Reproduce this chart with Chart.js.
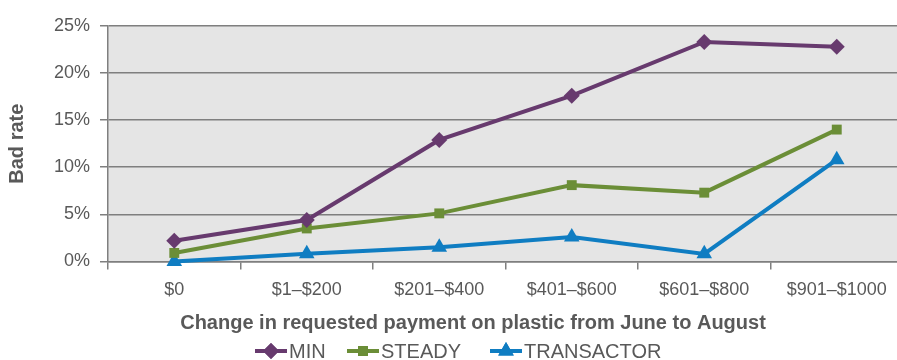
<!DOCTYPE html>
<html lang="en">
  <head>
    <meta charset="UTF-8">
    <title>Bad rate by change in requested payment</title>
    <script src="https://cdn.jsdelivr.net/npm/chart.js"></script>
    <style>
      html, body { margin: 0; padding: 0; background: #fff; overflow: hidden; }
      canvas { display: block; }
    </style>
  </head>
  <body>
    <!-- a bit wider than the window: the right edge of the plot runs off the page like the original -->
    <canvas id="lineChart" width="912" height="360"></canvas>
    <script>
      var categories = ['$0', '$1–$200', '$201–$400', '$401–$600', '$601–$800', '$901–$1000'];
      var minRate = [2.2, 4.4, 12.9, 17.6, 23.3, 22.8];
      var steadyRate = [0.9, 3.5, 5.1, 8.1, 7.3, 14.0];
      var transactorRate = [0.0, 0.8, 1.5, 2.6, 0.8, 10.8];
      var yTicks = [0, 5, 10, 15, 20, 25];
      var xTitle = 'Change in requested payment on plastic from June to August';

      var textGray = '#595959';
      var gridGray = '#7f7f7f';
      var fontFam = '"Liberation Sans", Arial, sans-serif';

      // grey plot background
      var plotBg = {
        id: 'plotBg',
        beforeDraw: function(chart) {
          var a = chart.chartArea, c = chart.ctx;
          c.save();
          c.fillStyle = '#e5e5e5';
          c.fillRect(a.left, a.top, a.right - a.left, a.bottom - a.top);
          c.restore();
        }
      };

      // x title sits left of the plot centre in the original, so draw it here
      // (the scale title is kept, transparent, to hold its space)
      var xTitleText = {
        id: 'xTitleText',
        afterDraw: function(chart) {
          var c = chart.ctx, s = chart.scales.x;
          c.save();
          c.font = 'bold 20px ' + fontFam;
          c.fillStyle = textGray;
          c.textAlign = 'center';
          c.textBaseline = 'middle';
          c.fillText(xTitle, 473, s.bottom - 12);
          c.restore();
        }
      };

      // legend with line + marker, drawn under the axis title
      var legendSlots = [255, 347, 490];
      var lineLegend = {
        id: 'lineLegend',
        afterDraw: function(chart) {
          var c = chart.ctx;
          var y = 351, seg = 32, gap = 2;
          c.save();
          c.font = '20px ' + fontFam;
          c.textBaseline = 'middle';
          chart.data.datasets.forEach(function(d, i) {
            var x = legendSlots[i];
            c.strokeStyle = d.borderColor;
            c.lineWidth = 4;
            c.beginPath();
            c.moveTo(x, y);
            c.lineTo(x + seg, y);
            c.stroke();
            c.fillStyle = d.borderColor;
            Chart.helpers.drawPoint(c, { pointStyle: d.pointStyle, radius: d.pointRadius, borderWidth: 0, rotation: 0 }, x + seg / 2, y);
            c.fill();
            c.fillStyle = textGray;
            c.fillText(d.label, x + seg + gap, y + 1);
          });
          c.restore();
        }
      };

      function series(label, data, color, style, r) {
        return {
          label: label,
          data: data,
          borderColor: color,
          backgroundColor: color,
          pointBackgroundColor: color,
          pointBorderColor: color,
          pointBorderWidth: 0,
          borderWidth: 4,
          pointStyle: style,
          pointRadius: r,
          pointHoverRadius: r,
          tension: 0,
          clip: false
        };
      }

      var ctx = document.getElementById('lineChart').getContext('2d');
      var chart = new Chart(ctx, {
        type: 'line',
        data: {
          labels: categories,
          datasets: [
            series('MIN', minRate, '#673a6e', 'rectRot', 8),
            series('STEADY', steadyRate, '#6b8e37', 'rect', 7),
            series('TRANSACTOR', transactorRate, '#0f7dc2', 'triangle', 9)
          ]
        },
        options: {
          responsive: false,
          animation: false,
          layout: { padding: { top: 26, right: 0, bottom: 25, left: 5 } },
          plugins: {
            legend: { display: false },
            tooltip: { enabled: false }
          },
          scales: {
            x: {
              offset: true,
              grid: {
                offset: true,
                drawOnChartArea: false,
                color: gridGray,
                lineWidth: 1.5,
                tickLength: 8
              },
              border: { color: gridGray, width: 1.5 },
              ticks: {
                color: textGray,
                font: { family: fontFam, size: 18 },
                padding: 10,
                maxRotation: 0
              },
              title: {
                display: true,
                text: xTitle,
                color: 'rgba(0,0,0,0)',
                font: { family: fontFam, size: 20, weight: 'bold' },
                padding: { top: 0, bottom: 0 }
              }
            },
            y: {
              min: yTicks[0],
              max: yTicks[yTicks.length - 1],
              afterBuildTicks: function(axis) {
                axis.ticks = yTicks.map(function(v) { return { value: v }; });
              },
              grid: {
                color: gridGray,
                lineWidth: 1.5,
                tickLength: 8
              },
              border: { color: gridGray, width: 1.5 },
              ticks: {
                color: textGray,
                font: { family: fontFam, size: 18 },
                padding: 10,
                callback: function(v) { return v + '%'; }
              },
              title: {
                display: true,
                text: 'Bad rate',
                color: textGray,
                font: { family: fontFam, size: 20, weight: 'bold' },
                padding: { top: 0, bottom: 15 }
              }
            }
          }
        },
        plugins: [plotBg, xTitleText, lineLegend]
      });
    </script>
  </body>
</html>
